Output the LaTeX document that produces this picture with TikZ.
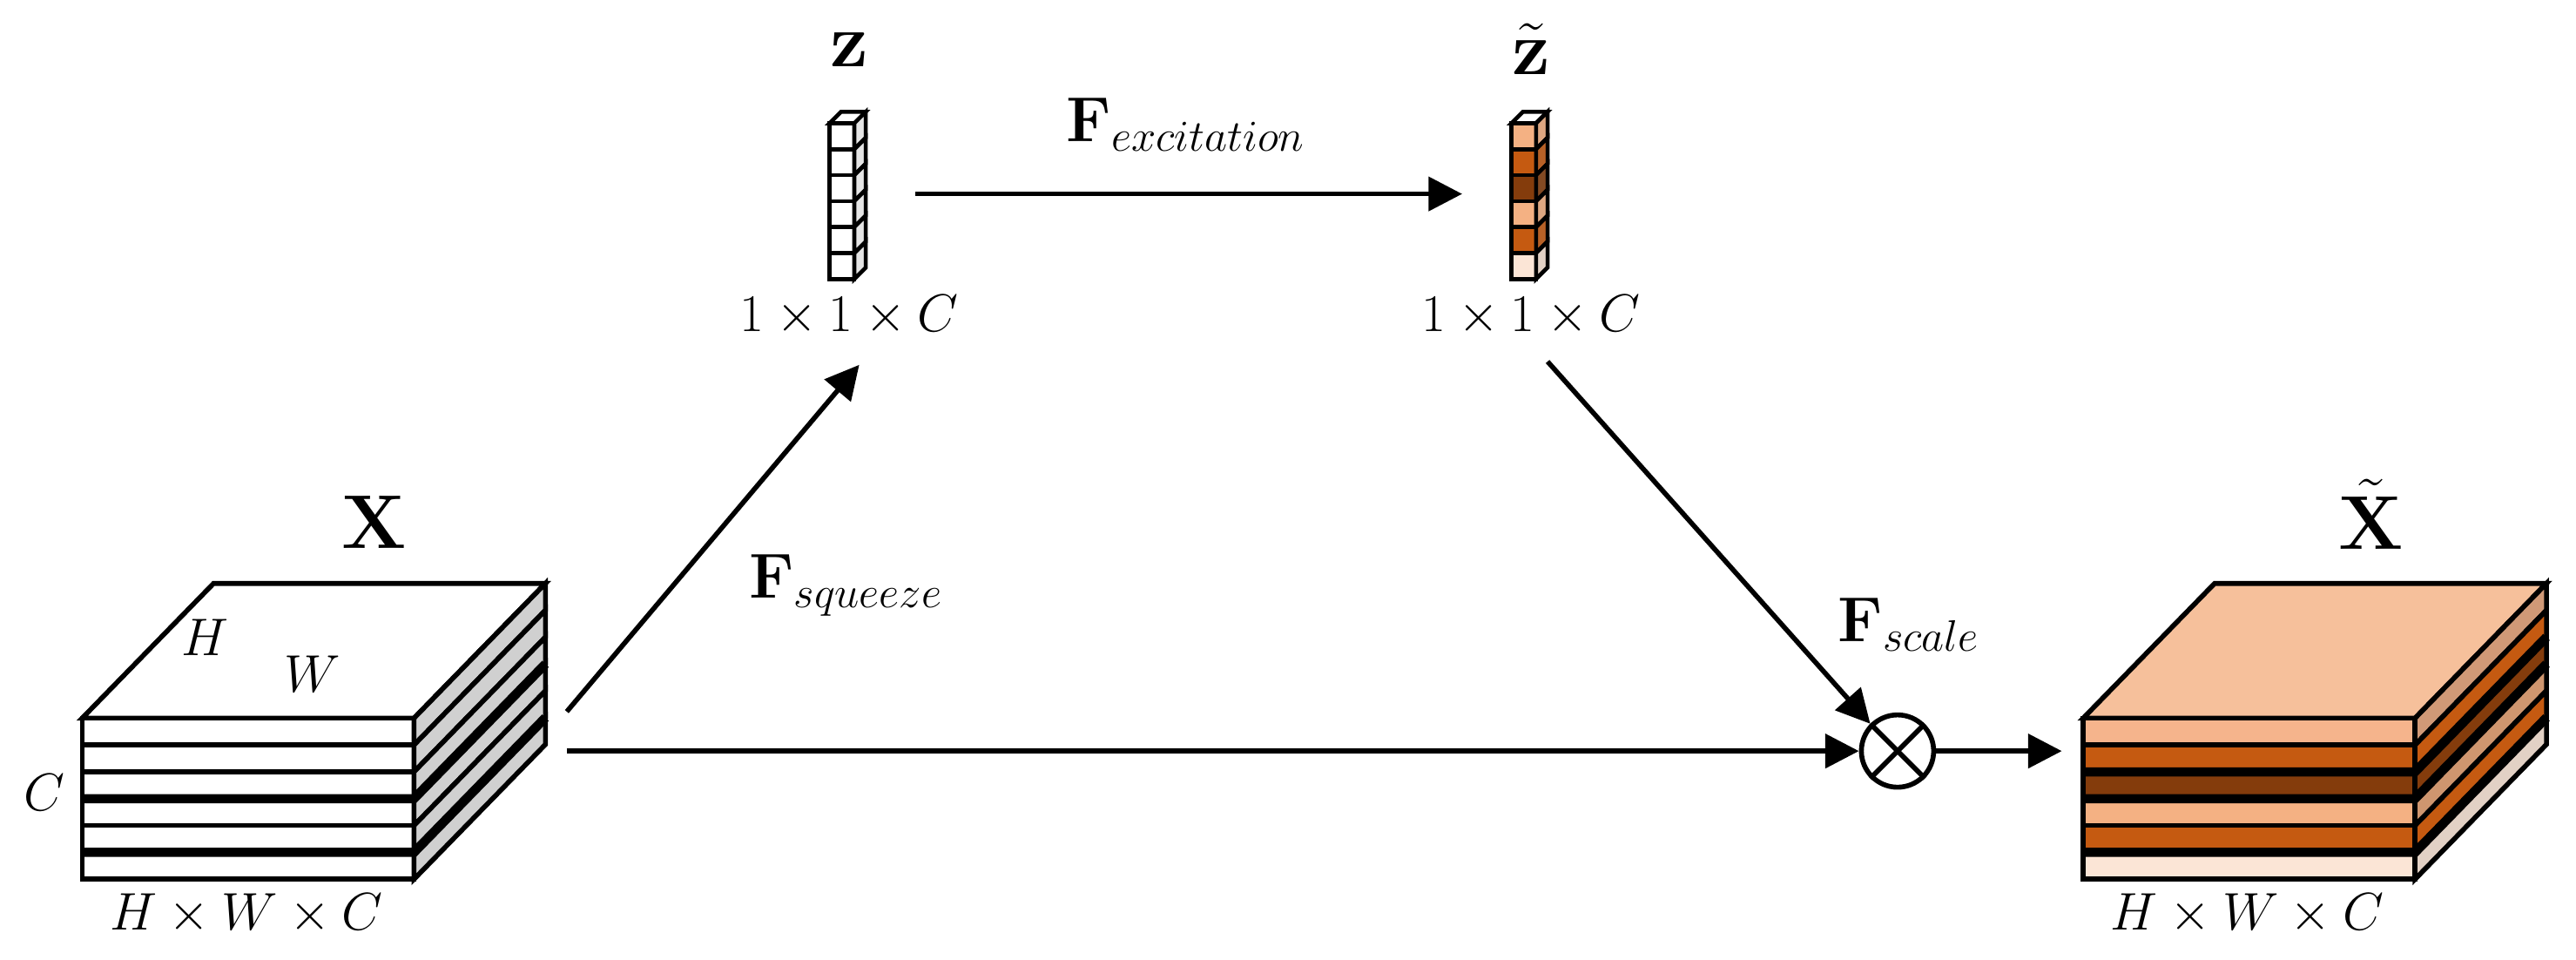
\documentclass[tikz,border=0pt]{standalone}
\usepackage{amsmath}
\usetikzlibrary{arrows.meta}
\definecolor{oA}{HTML}{F4B183}
\definecolor{oB}{HTML}{C55A11}
\definecolor{oC}{HTML}{843C0C}
\definecolor{oD}{HTML}{F5B48C}
\definecolor{oE}{HTML}{FBE5D6}
\definecolor{oTop}{HTML}{F6C09B}
\definecolor{gside}{HTML}{D0D0D0}
\tikzset{
  ln/.style={line width=1.6pt, line join=miter},
  thk/.style={line width=3pt},
  arr/.style={line width=1.6pt, -{Triangle[length=11pt,width=11pt]}},
  big/.style={font=\fontsize{24}{28}\selectfont},
  lab/.style={font=\fontsize{16}{19}\selectfont},
  flab/.style={font=\fontsize{21}{25}\selectfont},
}
\begin{document}
\begin{tikzpicture}[x=0.018865cm,y=-0.018865cm]
\useasboundingbox (0,0) rectangle (1568,584);
% ---------- left block ----------
\draw[ln,fill=white] (50,437) -- (130,355) -- (332,355) -- (252,437) -- cycle;
\foreach \i in {0,...,5}{
  \pgfmathsetmacro{\ya}{437+\i*16.33}
  \pgfmathsetmacro{\yb}{437+(\i+1)*16.33}
  \draw[ln,fill=white] (50,\ya) rectangle (252,\yb);
  \draw[ln,fill=gside] (252,\ya) -- (332,\ya-82) -- (332,\yb-82) -- (252,\yb) -- cycle;
}
\foreach \i in {3,5}{
  \pgfmathsetmacro{\ya}{437+\i*16.33}
  \draw[thk] (50,\ya) -- (252,\ya) -- (332,\ya-82);
}
\draw[ln] (50,437) rectangle (252,535);
\node[big] (X) at (228,318) {$\mathbf{X}$};
\node[lab] (h) at (125,388) {$H$};
\node[lab] (w) at (190,410) {$W$};
\node[lab] (c) at (27,482) {$C$};
\node[lab] (xdim) at (150,556) {$H\times W\times C$};
\coordinate (xs) at (345,433);
\coordinate (xb) at (345,457);
% ---------- right block ----------
\draw[ln,fill=oTop] (1268,437) -- (1348,355) -- (1550,355) -- (1470,437) -- cycle;
\foreach \i/\cf/\cs in {0/oD/oD!85!black,1/oB/oB,2/oC/oC,3/oA/oA!85!black,4/oB/oB,5/oE/oE!80!gray}{
  \pgfmathsetmacro{\ya}{437+\i*16.33}
  \pgfmathsetmacro{\yb}{437+(\i+1)*16.33}
  \draw[ln,fill=\cf] (1268,\ya) rectangle (1470,\yb);
  \draw[ln,fill=\cs] (1470,\ya) -- (1550,\ya-82) -- (1550,\yb-82) -- (1470,\yb) -- cycle;
}
\foreach \i in {2,3,5}{
  \pgfmathsetmacro{\ya}{437+\i*16.33}
  \draw[thk] (1268,\ya) -- (1470,\ya) -- (1550,\ya-82);
}
\draw[ln] (1268,437) rectangle (1470,535);
\node[big] (Xt) at (1443,313) {$\tilde{\mathbf{X}}$};
\node[lab] (xtdim) at (1368,556) {$H\times W\times C$};
\coordinate (xin) at (1255,457);
% ---------- vectors ----------
\foreach \x/\name/\lbl/\cols in {505/z/{\mathbf{z}}/{white,white,white,white,white,white},920/zt/{\tilde{\mathbf{z}}}/{oA,oB,oC,oA,oB,oE}}{
  \draw[line width=1.3pt,fill=white] (\x,75) -- (\x+7,68) -- (\x+22,68) -- (\x+15,75) -- cycle;
  \foreach \c [count=\k from 0] in \cols {
    \pgfmathsetmacro{\ya}{75+\k*15.8}
    \pgfmathsetmacro{\yb}{75+(\k+1)*15.8}
    \draw[line width=1.3pt,fill=\c] (\x,\ya) rectangle (\x+15,\yb);
    \draw[line width=1.3pt,fill=\c!80!gray] (\x+15,\ya) -- (\x+22,\ya-7) -- (\x+22,\yb-7) -- (\x+15,\yb) -- cycle;
  }
  \node[big] (\name) at (\x+12,30) {$\lbl$};
  \node[lab] (\name dim) at (\x+12,192) {$1\times1\times C$};
}
\coordinate (zin) at (523,222);
\coordinate (zout) at (557,118);
\coordinate (ztin) at (890,118);
\coordinate (ztout) at (942,220);
% ---------- scale ----------
\node[circle,draw,line width=1.6pt,inner sep=0pt,minimum size=0.83cm] (mul) at (1155,457) {};
\draw[line width=1.6pt] (mul.north west) -- (mul.south east) (mul.north east) -- (mul.south west);
% ---------- arrows ----------
\draw[arr] (xs) -- (zin);
\draw[arr] (zout) -- (ztin);
\draw[arr] (ztout) -- (mul.north west);
\draw[arr] (xb) -- (mul.west);
\draw[arr] (mul.east) -- (xin);
\node[flab] (fsq) at (515,356) {$\mathbf{F}_{squeeze}$};
\node[flab] (fex) at (722,76) {$\mathbf{F}_{excitation}$};
\node[flab] (fsc) at (1162,380) {$\mathbf{F}_{scale}$};
\end{tikzpicture}
\end{document}
